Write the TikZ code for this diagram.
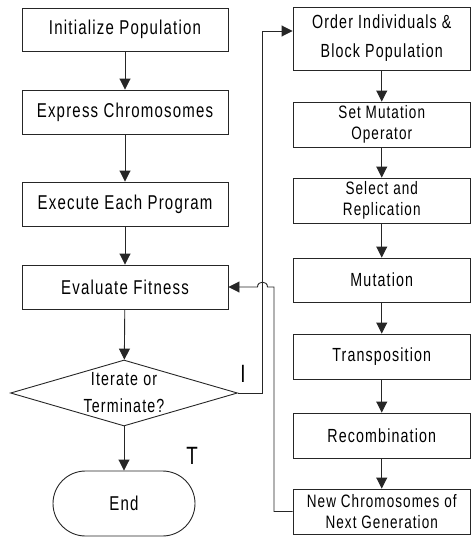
\documentclass[tikz,border=0pt]{standalone}
\usepackage{fontspec}
\setmainfont{Liberation Sans}[FakeStretch=0.75,LetterSpace=6]
\usetikzlibrary{shapes.geometric,arrows.meta,calc}
\begin{document}
\begin{tikzpicture}[x=1pt,y=-1pt,
  every node/.style={font=\fontsize{20}{22}\selectfont},
  box/.style={draw=black!85,line width=0.9pt,rectangle,inner sep=0pt,align=center},
  lbox/.style={box,minimum width=206pt},
  rbox/.style={box,minimum width=177.5pt,font=\fontsize{19}{22}\selectfont},
  rbox2/.style={rbox,font=\fontsize{18}{20.5}\selectfont},
  conn/.style={draw=black!85,line width=0.9pt},
  arr/.style={conn,-{Triangle[length=11pt,width=11pt]}},
  lab/.style={font=\fontsize{25}{25}\selectfont}
]
\useasboundingbox (0,0) rectangle (472,538);
% left column
\node[lbox,minimum height=43pt] (init) at (125,29.5) {Initialize Population};
\node[lbox,minimum height=44pt] (expr) at (125,112) {Express Chromosomes};
\node[lbox,minimum height=44pt] (exec) at (125,204) {Execute Each Program};
\node[lbox,minimum height=44pt] (eval) at (125,287) {Evaluate Fitness};
\node[diamond,draw=black!85,line width=0.9pt,minimum width=227pt,minimum height=66pt,inner sep=0pt] (dec) at (124,393) {};
\node[align=center,font=\fontsize{19}{27}\selectfont] (dectext) at (dec) {Iterate or\\Terminate?};
\node[box,minimum width=142pt,minimum height=65pt,rounded corners=32.5pt] (end) at (124,503.5) {End};
% right column
\node[rbox,minimum height=63pt,font=\fontsize{19}{29}\selectfont] (order) at (381.75,38.5) {Order Individuals \&\\Block Population};
\node[rbox2,minimum height=45pt] (setm) at (381.75,124.5) {Set Mutation\\Operator};
\node[rbox2,minimum height=45pt] (sel) at (381.75,200.5) {Select and\\Replication};
\node[rbox,minimum height=44pt] (mut) at (381.75,280) {Mutation};
\node[rbox,minimum height=45pt] (trans) at (381.75,356.5) {Transposition};
\node[rbox,minimum height=45pt] (recomb) at (381.75,435.5) {Recombination};
\node[rbox2,minimum height=45pt] (newc) at (381.75,511.5) {New Chromosomes of\\Next Generation};
% labels
\node[lab] (labI) at (243,374) {I};
\node[lab] (labT) at (192,456) {T};
% left arrows
\draw[arr] (init) -- (expr);
\draw[arr] (expr) -- (exec);
\draw[arr] (exec) -- (eval);
\draw[arr] (eval) -- (dec);
\draw[arr] (dec) -- (end);
% right arrows
\draw[arr] (order) -- (setm);
\draw[arr] (setm) -- (sel);
\draw[arr] (sel) -- (mut);
\draw[arr] (mut) -- (trans);
\draw[arr] (trans) -- (recomb);
\draw[arr] (recomb) -- (newc);
% loop: iterate
\coordinate (loopTop) at (262,31);
\draw[arr] (dec.east) -| (loopTop) -- (loopTop -| order.west);
% back to evaluate with hop
\coordinate (backX) at (274,287);
\coordinate (hopR) at (267.5,287);
\coordinate (hopL) at (257.5,287);
\draw[arr] (newc.west) -| (backX) -- (hopR)
  .. controls (267.5,280.5) and (257.5,280.5) .. (hopL) -- (eval.east);
\end{tikzpicture}
\end{document}
